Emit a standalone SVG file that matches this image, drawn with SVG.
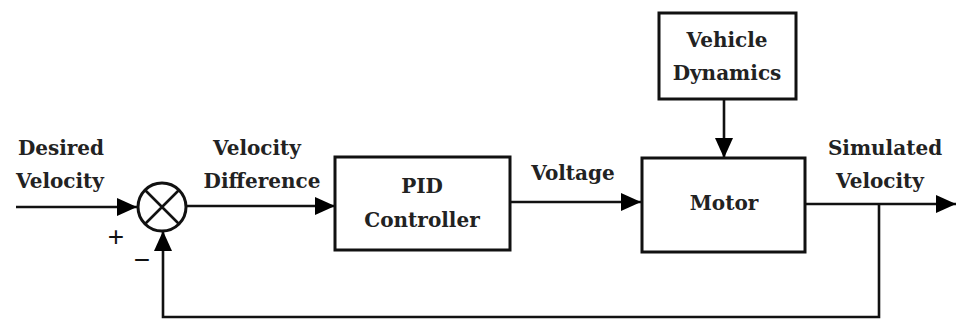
<svg xmlns="http://www.w3.org/2000/svg" width="956" height="320" viewBox="0 0 956 320">
<defs>
<marker id="ah" markerWidth="22" markerHeight="18" refX="20" refY="9" orient="auto" markerUnits="userSpaceOnUse">
<path d="M0,0 L20,9 L0,18 Z" fill="#000"/>
</marker>
</defs>
<style>
.box{fill:#fff;stroke:#111;stroke-width:3}
.ln{fill:none;stroke:#111;stroke-width:2.6}
.t{font-family:"DejaVu Serif",serif;font-weight:bold;font-size:20px;fill:#222;text-anchor:middle}
.s{font-family:"Liberation Sans",sans-serif;font-size:28px;fill:#111;text-anchor:middle}
</style>
<rect width="956" height="320" fill="#fff"/>
<g id="connectors">
<path class="ln" d="M16,207 H137" marker-end="url(#ah)"/>
<path class="ln" d="M187,206 H335" marker-end="url(#ah)"/>
<path class="ln" d="M510,202 H641" marker-end="url(#ah)"/>
<path class="ln" d="M724,99 V158" marker-end="url(#ah)"/>
<path class="ln" d="M805,204 H956" marker-end="url(#ah)"/>
<path class="ln" d="M879,204 V317 H163 V231" marker-end="url(#ah)"/>
</g>
<g id="sum">
<circle cx="162" cy="207" r="24" fill="#fff" stroke="#111" stroke-width="3"/>
<path class="ln" d="M145,190 L179,224 M179,190 L145,224"/>
<text class="s" x="116" y="246">+</text>
<text class="s" x="142" y="269">−</text>
</g>
<g id="pid">
<rect class="box" x="335" y="157" width="175" height="93"/>
<text class="t" x="422" y="193">PID</text>
<text class="t" x="422" y="227">Controller</text>
</g>
<g id="motor">
<rect class="box" x="642" y="158" width="163" height="94"/>
<text class="t" x="724" y="210">Motor</text>
</g>
<g id="vehicle">
<rect class="box" x="659" y="13" width="137" height="86"/>
<text class="t" x="727" y="47">Vehicle</text>
<text class="t" x="727" y="80">Dynamics</text>
</g>
<g id="labels">
<text class="t" x="61" y="155">Desired</text>
<text class="t" x="60" y="188">Velocity</text>
<text class="t" x="257" y="155">Velocity</text>
<text class="t" x="262" y="188">Difference</text>
<text class="t" x="573" y="180">Voltage</text>
<text class="t" x="885" y="155">Simulated</text>
<text class="t" x="880" y="188">Velocity</text>
</g>
</svg>
